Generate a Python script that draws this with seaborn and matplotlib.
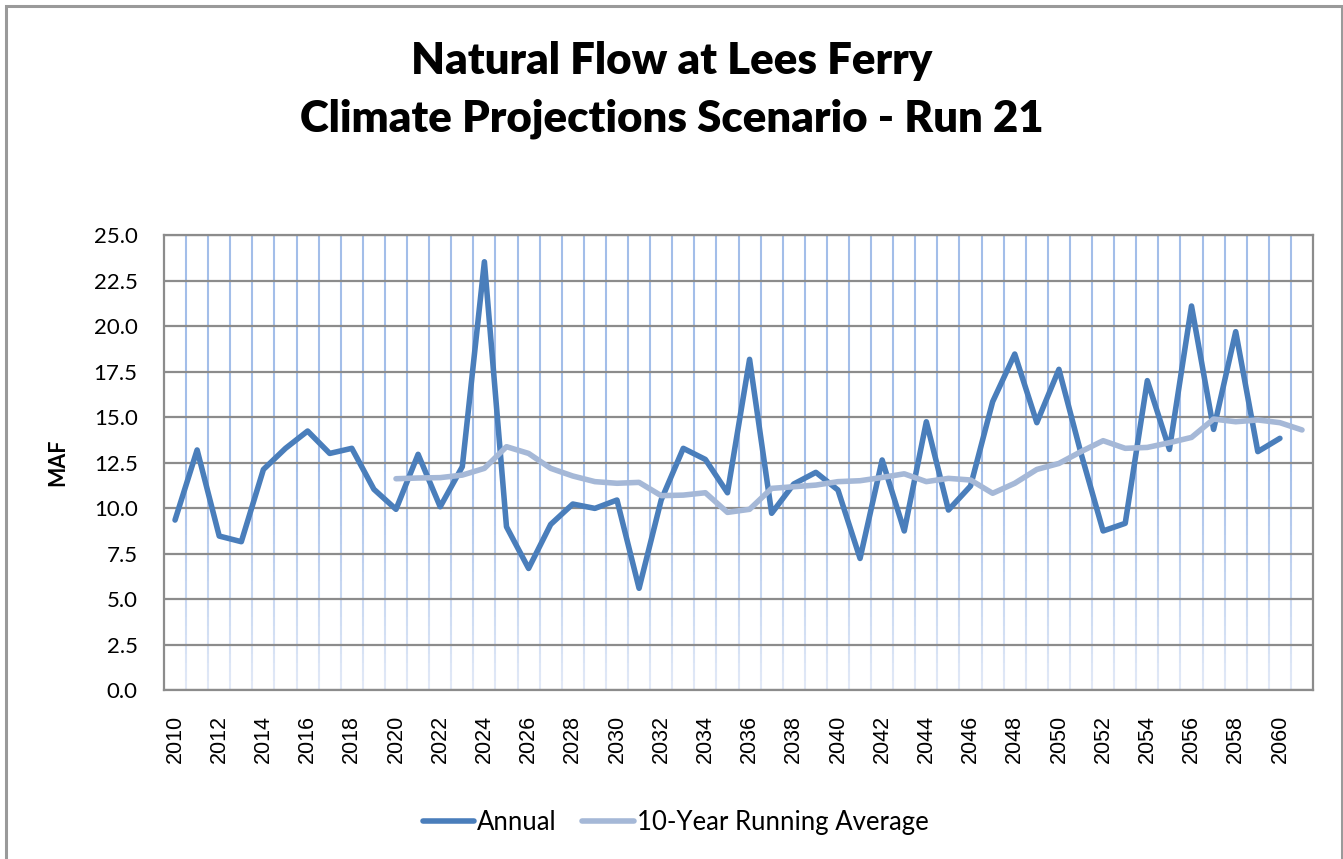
import numpy as np
import pandas as pd
import matplotlib.pyplot as plt
import seaborn as sns
from matplotlib.patches import Rectangle
from matplotlib.collections import LineCollection
from matplotlib.colors import to_rgb

years = list(range(2010, 2062))

annual = [9.34, 13.19, 8.46, 8.15, 12.12, 13.28, 14.23, 13.0, 13.28, 11.03,
          9.93, 12.95, 10.07, 12.27, 23.53, 8.97, 6.68, 9.10, 10.22, 9.98,
          10.44, 5.59, 10.44, 13.28, 12.67, 10.84, 18.17, 9.71, 11.32, 11.96,
          10.99, 7.23, 12.64, 8.74, 14.74, 9.89, 11.21, 15.84, 18.46, 14.69,
          17.62, 13.0, 8.74, 9.16, 17.0, 13.22, 21.1, 14.32, 19.69, 13.1,
          13.83, np.nan]

running_avg = [np.nan] * 10 + [
    11.61, 11.65, 11.67, 11.81, 12.18, 13.37, 13.0, 12.18, 11.76, 11.45,
    11.36, 11.41, 10.68, 10.71, 10.84, 9.76, 9.93, 11.08, 11.17, 11.26,
    11.45, 11.5, 11.68, 11.88, 11.45, 11.63, 11.54, 10.81, 11.36, 12.12,
    12.45, 13.1, 13.7, 13.28, 13.33, 13.59, 13.88, 14.89, 14.74, 14.84,
    14.69, 14.29]

df = pd.DataFrame({'Year': years, 'Annual': annual, 'Avg': running_avg})

sns.set_style('white')
plt.rcParams['font.family'] = ['Lato', 'DejaVu Sans']
plt.rcParams['text.color'] = 'black'
plt.rcParams['xtick.color'] = 'black'
plt.rcParams['ytick.color'] = 'black'
plt.rcParams['axes.labelcolor'] = 'black'

fig = plt.figure(figsize=(13.43, 8.59), dpi=100)
ax = fig.add_axes([0.1221, 0.1967, 0.8556, 0.5297])

# outer chart border (bottom edge is cut off in the original)
fig.patches.append(Rectangle((6 / 1343, -0.05), 1336 / 1343, 1 - 6 / 859 + 0.05,
                             transform=fig.transFigure, fill=False,
                             edgecolor='#9a9a9a', linewidth=2.2))

# vertical grid between the years, fading towards the bottom
top_c = np.array(to_rgb('#a3bee9'))
bot_c = np.array(to_rgb('#e3eaf7'))
levels = np.linspace(0, 25, 51)
segs, cols = [], []
for xb in np.array(years[:-1]) + 0.5:
    for y0, y1 in zip(levels[:-1], levels[1:]):
        t = min(1.0, ((y0 + y1) / 2) / 12.5)
        segs.append([(xb, y0), (xb, y1)])
        cols.append(bot_c + (top_c - bot_c) * t)
ax.add_collection(LineCollection(segs, colors=cols, linewidths=1.5, zorder=0.5))

sns.lineplot(data=df, x='Year', y='Annual', ax=ax, color='#4a7ebb', linewidth=4.0,
             label='Annual', solid_capstyle='round', solid_joinstyle='round')
sns.lineplot(data=df, x='Year', y='Avg', ax=ax, color='#a5b8d7', linewidth=4.0,
             label='10-Year Running Average', solid_capstyle='round',
             solid_joinstyle='round')

ax.set_xlim(2009.5, 2061.5)
ax.set_ylim(0, 25)
ax.set_yticks(np.arange(0, 25.1, 2.5))
ax.set_yticklabels([f'{v:.1f}' for v in np.arange(0, 25.1, 2.5)])
ax.set_xticks(range(2010, 2061, 2))
ax.set_xticklabels([str(y) for y in range(2010, 2061, 2)], rotation=90,
                   family='Liberation Sans', fontsize=15.5)
ax.tick_params(axis='x', length=0, pad=18)
ax.tick_params(axis='y', length=0, pad=19, labelsize=16)

ax.grid(axis='y', color='#8c8c8c', linewidth=1.6, zorder=0.6)
ax.grid(axis='x', visible=False)
ax.set_axisbelow(True)
for s in ax.spines.values():
    s.set_color('#8c8c8c')
    s.set_linewidth(1.6)

ax.set_xlabel('')
ax.set_ylabel('MAF', fontsize=15.5, fontweight='bold', labelpad=18)

fig.text(0.5, 0.929, 'Natural Flow at Lees Ferry', ha='center', va='center',
         fontsize=31.5, fontweight='heavy')
fig.text(0.5, 0.862, 'Climate Projections Scenario - Run 21', ha='center',
         va='center', fontsize=31.5, fontweight='heavy')

ax.get_legend().remove()
handles, labels = ax.get_legend_handles_labels()
fig.legend(handles, labels, loc='center', bbox_to_anchor=(0.503, 0.043), ncol=2,
           frameon=False, fontsize=18.5, handlelength=2.0, handletextpad=0.12,
           columnspacing=1.0)

fig.savefig('out.png', dpi=100)
